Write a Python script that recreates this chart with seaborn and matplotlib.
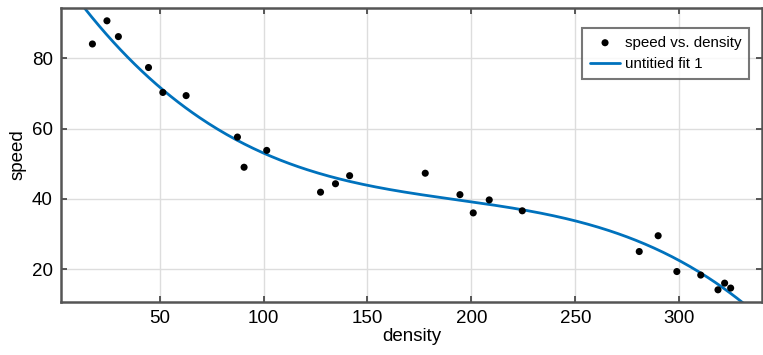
import numpy as np
import pandas as pd
import matplotlib
matplotlib.use("Agg")
import matplotlib.pyplot as plt
import seaborn as sns

density = [17.6, 24.6, 30.1, 44.6, 51.5, 62.7, 87.4, 90.6, 101.5, 127.4, 134.6, 141.4,
           177.8, 194.5, 200.9, 208.6, 224.5, 280.8, 289.9, 298.9, 310.4, 318.7, 321.9, 324.8]
speed = [84.1, 90.7, 86.2, 77.4, 70.3, 69.4, 57.6, 49.0, 53.8, 41.9, 44.3, 46.6,
         47.3, 41.2, 36.0, 39.7, 36.6, 25.0, 29.5, 19.3, 18.3, 14.1, 16.0, 14.6]
xticks = [50, 100, 150, 200, 250, 300]
yticks = [20, 40, 60, 80]

df = pd.DataFrame({"density": density, "speed": speed})
coef = np.polyfit(df["density"], df["speed"], 3)
fx = np.linspace(0, 345, 400)
fit = pd.DataFrame({"density": fx, "speed": np.polyval(coef, fx)})

sns.set_theme(style="whitegrid")
plt.rcParams["font.family"] = ["Liberation Sans", "DejaVu Sans"]
plt.rcParams["text.color"] = "black"
plt.rcParams["axes.labelcolor"] = "black"
plt.rcParams["xtick.color"] = "#444444"
plt.rcParams["ytick.color"] = "#444444"
plt.rcParams["xtick.labelcolor"] = "black"
plt.rcParams["ytick.labelcolor"] = "black"

fig = plt.figure(figsize=(7.63, 3.55), dpi=100)
ax = fig.add_axes([0.080, 0.150, 0.919, 0.827])

sns.scatterplot(data=df, x="density", y="speed", ax=ax, color="black", s=26,
                edgecolor="none", label="speed vs. density", zorder=3)
sns.lineplot(data=fit, x="density", y="speed", ax=ax, color="#0072BD", linewidth=2,
             label="untitied fit 1", zorder=2)

ax.set_xlim(2.5, 340)
ax.set_ylim(10.7, 94.3)
ax.set_xticks(xticks)
ax.set_yticks(yticks)
ax.tick_params(axis="both", labelsize=13.5, direction="in", length=4,
               top=True, right=True, bottom=True, left=True, pad=6)
ax.grid(True, color="#dddddd", linewidth=1)
for s in ax.spines.values():
    s.set_color("#555555")
    s.set_linewidth(1.8)
    s.set_visible(True)
ax.set_xlabel("density", fontsize=13.5, labelpad=1)
ax.set_ylabel("speed", fontsize=13.5, labelpad=4)

leg = ax.legend(loc="upper right", bbox_to_anchor=(0.981, 0.932), borderaxespad=0,
                fontsize=10.9, frameon=True, fancybox=False, handlelength=2.0,
                handletextpad=0.3, borderpad=0.5, labelspacing=0.5)
leg.get_frame().set_edgecolor("#555555")
leg.get_frame().set_linewidth(1.5)

fig.savefig("out.png", dpi=100)
